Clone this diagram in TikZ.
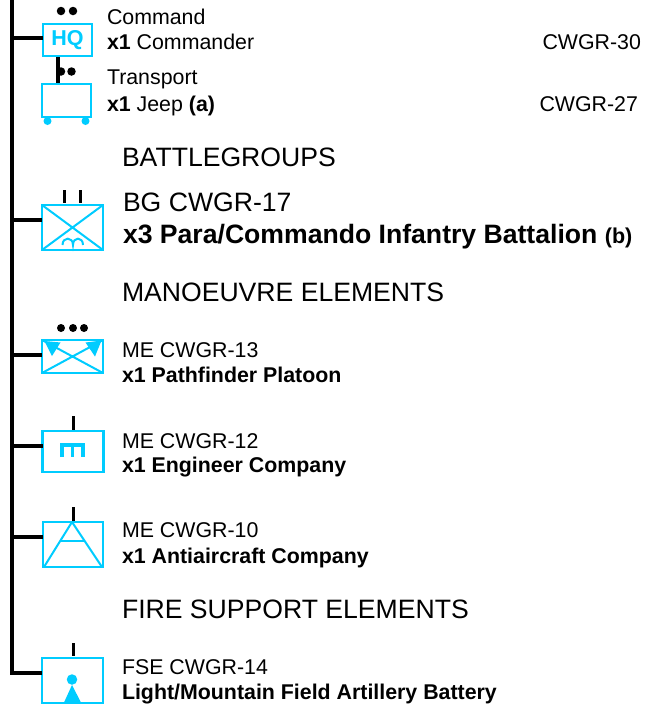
\documentclass[tikz,border=0pt]{standalone}
\usepackage{fontspec}
\setmainfont{Liberation Sans}
\definecolor{sym}{HTML}{00CCFF}
\tikzset{x=1pt,y=-1pt,
 unitbox/.style={draw=sym,line width=2.2pt,fill=white,inner sep=0,outer sep=0,rectangle},
 trunk/.style={line width=4pt,black},
 tick/.style={line width=3pt,black},
 symline/.style={draw=sym,line width=2pt},
 dot/.style={circle,fill=black,inner sep=0,minimum size=8.5pt},
 wheel/.style={circle,fill=sym,inner sep=0,minimum size=8pt},
 txt/.style={anchor=base west,inner sep=0,outer sep=0,yshift=-1pt},
 small/.style={txt,font=\fontsize{21.35}{22}\selectfont},
 smallb/.style={txt,font=\bfseries\fontsize{21.35}{22}\selectfont},
 big/.style={txt,font=\fontsize{26.6}{27}\selectfont},
}
\begin{document}
\begin{tikzpicture}
\useasboundingbox (0,0) rectangle (656,705);
% trunk
\coordinate (ttop) at (12,0);
\coordinate (tend) at (12,673);
\coordinate (t1) at (12,38);
\coordinate (t2) at (12,220);
\coordinate (t3) at (12,355);
\coordinate (t4) at (12,446);
\coordinate (t5) at (12,537);
% unit boxes
\node[unitbox,minimum width=49pt,minimum height=32pt] (hq) at (67.5,40) {};
\node[unitbox,minimum width=49pt,minimum height=33pt] (jeep) at (66.5,100.5) {};
\node[unitbox,minimum width=61pt,minimum height=45pt] (bg) at (72.5,227.5) {};
\node[unitbox,minimum width=61pt,minimum height=33pt] (me13) at (72.5,356.5) {};
\node[unitbox,minimum width=61pt,minimum height=41pt] (me12) at (73,451.5) {};
\node[unitbox,minimum width=60pt,minimum height=45pt] (me10) at (73,544.5) {};
\node[unitbox,minimum width=61pt,minimum height=45pt] (fse) at (72.5,680.5) {};
% connectors
\draw[trunk] (ttop) -- (tend) -- (tend -| fse.west);
\draw[trunk] (t1) -- (t1 -| hq.west);
\draw[trunk] (t2) -- (t2 -| bg.west);
\draw[trunk,line width=3.4pt] (t3) -- (t3 -| me13.west);
\draw[trunk,line width=3.4pt] (t4) -- (t4 -| me12.west);
\draw[trunk] (t5) -- (t5 -| me10.west);
\draw[trunk] (57.5,57) coordinate (hqs) -- (57.5,83) coordinate (js);
% HQ
\node[font=\bfseries\fontsize{21.5}{22}\selectfont,text=sym,inner sep=0] (hqt) at (hq.center) {HQ};
\node[dot] (d1) at (61,11) {};
\node[dot] (d2) at (73,11) {};
\node[dot] (d3) at (61,71.5) {};
\node[dot] (d4) at (71.5,71.5) {};
% jeep wheels
\node[wheel] (w1) at (47.5,121) {};
\node[wheel] (w2) at (85.5,121) {};
% BG
\draw[symline] (bg.north west) -- (bg.south east) (bg.south west) -- (bg.north east);
\draw[symline] (62.5,245) .. controls (62.5,236.5) and (73,236.5) .. (73,245)
  .. controls (73,236.5) and (83,236.5) .. (83,245);
\draw[tick] (64,190) -- (64,203);
\draw[tick] (80,190) -- (80,203);
% ME13
\draw[symline] (me13.south west) -- (me13.north east) (me13.north west) -- (me13.south east);
\fill[sym] (44.5,341) -- (60.5,342.5) -- (52,356) -- cycle;
\fill[sym] (85.5,342.5) -- (101.5,340.5) -- (95,356.5) -- cycle;
\node[dot,minimum size=8pt] (d5) at (61,328) {};
\node[dot,minimum size=8pt] (d6) at (73,328) {};
\node[dot,minimum size=8pt] (d7) at (84,328) {};
% ME12
\draw[draw=sym,line width=3.8pt,line cap=butt] (61.7,457) -- (61.7,444.8) -- (83.3,444.8) -- (83.3,457);
\draw[draw=sym,line width=3.4pt] (72.5,444.8) -- (72.5,457);
\draw[tick] (73,416) -- (73,430);
% ME10
\draw[symline,line join=round] (44,567) -- (72,522) -- (102,567);
\draw[symline] (60,541) -- (84,541);
\draw[tick] (73,507) -- (73,521);
% FSE
\node[circle,fill=sym,inner sep=0,minimum size=10.5pt] (fc) at (72,679.5) {};
\fill[sym] (72,685) -- (81,702.5) -- (64,702.5) -- cycle;
\draw[tick] (73,643) -- (73,656);
% texts
\node[small] (a1) at (107,23) {Command};
\node[small] (a2) at (107,48) {\textbf{x1} Commander};
\node[small] (a3) at (542.5,48) {CWGR-30};
\node[small] (b1) at (107,83) {Transport};
\node[small] (b2) at (107,110) {\textbf{x1} Jeep \textbf{(a)}};
\node[small] (b3) at (539.5,110) {CWGR-27};
\node[big] (h1) at (122,165) {BATTLEGROUPS};
\node[big] (c1) at (123,210) {BG CWGR-17};
\node[big,font=\bfseries\fontsize{26.6}{27}\selectfont] (c2) at (123,242) {x3 Para/Commando Infantry Battalion {\fontsize{21.5}{22}\selectfont (b)}};
\node[big] (h2) at (122,300) {MANOEUVRE ELEMENTS};
\node[small] (e1) at (122,356) {ME CWGR-13};
\node[smallb] (e2) at (122,381) {x1 Pathfinder Platoon};
\node[small] (f1) at (122,447) {ME CWGR-12};
\node[smallb] (f2) at (122,471) {x1 Engineer Company};
\node[small] (g1) at (122,536) {ME CWGR-10};
\node[smallb] (g2) at (122,562) {x1 Antiaircraft Company};
\node[big] (h3) at (122,617) {FIRE SUPPORT ELEMENTS};
\node[small] (i1) at (122,673) {FSE CWGR-14};
\node[smallb] (i2) at (122,698) {Light/Mountain Field Artillery Battery};
\end{tikzpicture}
\end{document}
